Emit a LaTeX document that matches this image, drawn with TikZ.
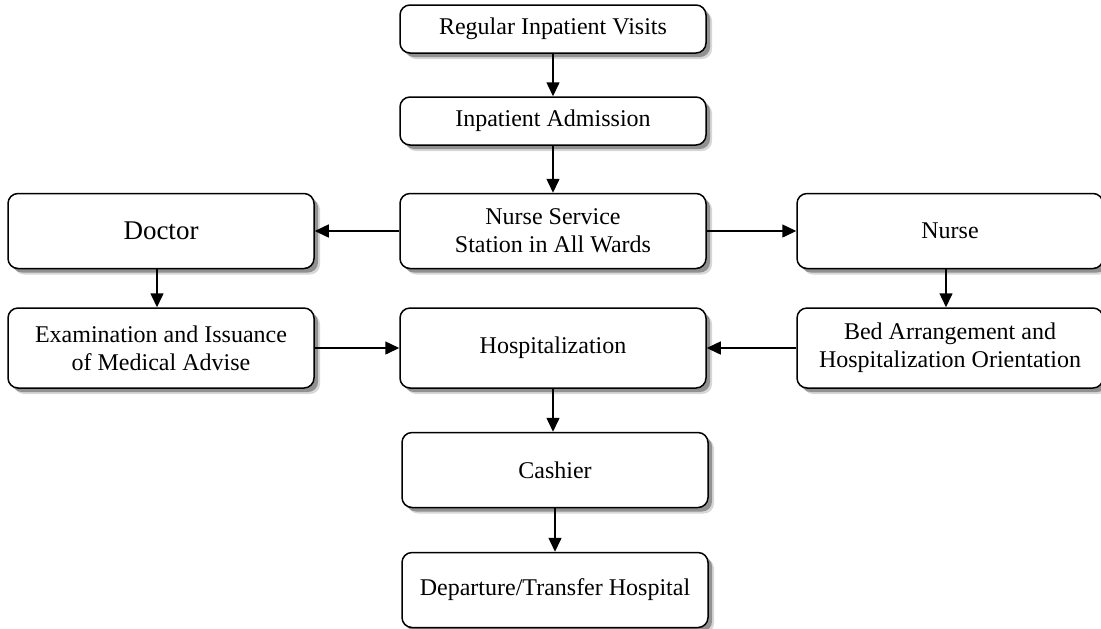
\documentclass[tikz,border=0pt]{standalone}
\usepackage{fontspec}
\setmainfont{Liberation Serif}
\usepackage{tikz}
\usetikzlibrary{arrows.meta,shadows}

\tikzset{
	box/.style={draw, line width=0.75pt, rounded corners=5pt, fill=white,
		minimum width=153pt, align=center, font=\fontsize{12}{14}\selectfont,
		drop shadow={shadow xshift=3pt, shadow yshift=-3pt, fill=black!45, opacity=0.35},
		drop shadow={shadow xshift=2pt, shadow yshift=-2pt, fill=black!70, opacity=0.5}},
	arr/.style={-{Triangle[length=7pt,width=6.5pt]}, line width=0.75pt}
}

\begin{document}
\begin{tikzpicture}[x=0.5pt, y=0.5pt]
		\useasboundingbox (0, 0) rectangle (1101, -628);
		\node[box, minimum height=24pt] (visit) at (553, -29) {Regular Inpatient Visits};
		\node[box, minimum height=24pt] (admit) at (553, -121) {Inpatient Admission};
		\node[box, minimum height=37.5pt] (station) at (553, -231) {Nurse Service\\Station in All Wards};
		\node[box, minimum height=37.5pt, font=\fontsize{13.5}{15}\selectfont] (doctor) at (161, -231) {Doctor};
		\node[box, minimum height=37.5pt] (nurse) at (950, -231) {Nurse};
		\node[box, minimum height=40pt] (exam) at (161, -348) {Examination and Issuance\\of Medical Advise};
		\node[box, minimum height=40pt] (hosp) at (553, -348) {Hospitalization};
		\node[box, minimum height=40pt] (bed) at (950, -348) {Bed Arrangement and\\Hospitalization Orientation};
		\node[box, minimum height=37.5pt] (cash) at (555, -470) {Cashier};
		\node[box, minimum height=37.5pt] (leave) at (555, -590) {Departure/Transfer Hospital};
		% connectors
		\draw[arr] (visit) -- (admit);
		\draw[arr] (admit) -- (station);
		\draw[arr] (station) -- (doctor);
		\draw[arr] (station) -- (nurse);
		\draw[arr] (doctor.south -| 157, 0) -- (exam.north -| 157, 0);
		\draw[arr] (nurse.south -| 946, 0) -- (bed.north -| 946, 0);
		\draw[arr] (exam) -- (hosp);
		\draw[arr] (bed) -- (hosp);
		\draw[arr] (hosp.south -| 553, 0) -- (cash.north -| 553, 0);
		\draw[arr] (cash) -- (leave);
	\end{tikzpicture}
\end{document}
